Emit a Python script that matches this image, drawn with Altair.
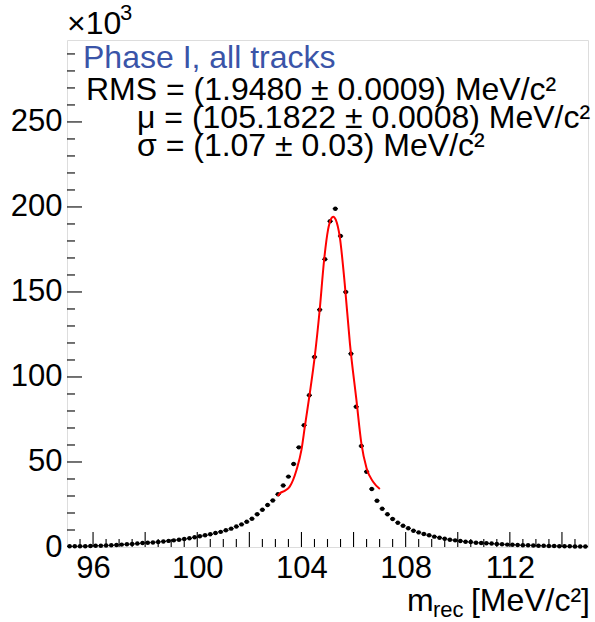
import altair as alt
import pandas as pd

# ---------------- data ----------------
centers = [95.1, 95.3, 95.5, 95.7, 95.9, 96.1, 96.3, 96.5, 96.7, 96.9,
           97.1, 97.3, 97.5, 97.7, 97.9, 98.1, 98.3, 98.5, 98.7, 98.9,
           99.1, 99.3, 99.5, 99.7, 99.9, 100.1, 100.3, 100.5, 100.7, 100.9,
           101.1, 101.3, 101.5, 101.7, 101.9, 102.1, 102.3, 102.5, 102.7, 102.9,
           103.1, 103.3, 103.5, 103.7, 103.9, 104.1, 104.3, 104.5, 104.7, 104.9,
           105.1, 105.3, 105.5, 105.7, 105.9, 106.1, 106.3, 106.5, 106.7, 106.9,
           107.1, 107.3, 107.5, 107.7, 107.9, 108.1, 108.3, 108.5, 108.7, 108.9,
           109.1, 109.3, 109.5, 109.7, 109.9, 110.1, 110.3, 110.5, 110.7, 110.9,
           111.1, 111.3, 111.5, 111.7, 111.9, 112.1, 112.3, 112.5, 112.7, 112.9,
           113.1, 113.3, 113.5, 113.7, 113.9, 114.1, 114.3, 114.5, 114.7, 114.9]
counts_k = [0.4, 0.4, 0.4, 0.5, 0.6, 0.7, 0.8, 0.9, 1.0, 1.2,
            1.4, 1.6, 1.8, 2.0, 2.3, 2.5, 2.7, 3.0, 3.3, 3.6,
            3.9, 4.3, 4.7, 5.1, 5.7, 6.3, 6.9, 7.5, 8.2, 8.9,
            9.8, 10.8, 12.0, 13.3, 14.8, 16.6, 19.3, 21.9, 24.7, 27.4,
            31.0, 36.2, 41.4, 48.8, 58.6, 71.6, 89.2, 111.8, 139.6, 169.2,
            191.6, 199.0, 182.9, 150.0, 113.7, 82.5, 59.4, 44.3, 34.1, 27.2,
            22.5, 19.2, 16.5, 14.3, 12.5, 11.0, 9.6, 8.6, 7.6, 6.9,
            6.1, 5.5, 4.9, 4.3, 3.9, 3.5, 3.1, 2.9, 2.5, 2.4,
            2.2, 2.0, 1.8, 1.6, 1.4, 1.3, 1.2, 1.0, 1.0, 0.9,
            0.8, 0.7, 0.6, 0.6, 0.5, 0.4, 0.4, 0.3, 0.3, 0.3]

fit_x = [103.09, 103.17, 103.35, 103.55, 103.81, 104.00, 104.13, 104.32, 104.51,
         104.70, 104.87, 105.02, 105.15, 105.22, 105.32, 105.47, 105.66, 105.86,
         106.11, 106.30, 106.50, 106.75, 107.01]
fit_y = [30.0, 31.5, 33.0, 35.5, 45.3, 57.1, 70.8, 90.4, 112.0,
         139.4, 168.8, 186.5, 193.3, 194.3, 192.4, 182.5, 155.1, 119.8,
         86.5, 61.0, 46.3, 38.4, 34.1]

x_major_ticks = [96, 98, 100, 102, 104, 106, 108, 110, 112, 114]
x_minor_ticks = [95.5, 96.5, 97, 97.5, 98.5, 99, 99.5, 100.5, 101, 101.5,
                 102.5, 103, 103.5, 104.5, 105, 105.5, 106.5, 107, 107.5,
                 108.5, 109, 109.5, 110.5, 111, 111.5, 112.5, 113, 113.5, 114.5]
y_major_ticks = [50, 100, 150, 200, 250]
y_minor_ticks = [10, 20, 30, 40, 60, 70, 80, 90, 110, 120, 130, 140, 160, 170,
                 180, 190, 210, 220, 230, 240, 260, 270, 280, 290]
x_tick_labels = [96, 100, 104, 108, 112]
y_tick_labels = [0, 50, 100, 150, 200, 250]

title_text = "Phase I, all tracks"
stat_lines = ["RMS = (1.9480 ± 0.0009) MeV/c²",
              "μ = (105.1822 ± 0.0008) MeV/c²",
              "σ = (1.07 ± 0.03) MeV/c²"]

# ---------------- build ----------------
FONT = "Liberation Sans"
FS_TICK = 31
FS = 32
W, H = 521, 507

hist = pd.DataFrame({"x": centers, "y": counts_k})
hist["lo"] = hist["x"] - 0.1
hist["hi"] = hist["x"] + 0.1
fit = pd.DataFrame({"x": fit_x, "y": fit_y})

xs = alt.Scale(domain=[95, 115], nice=False, zero=False)
ys = alt.Scale(domain=[0, 298.2], nice=False, zero=False)

xaxis = alt.Axis(values=x_tick_labels, ticks=False, domain=False, grid=False,
                 labelFont=FONT, labelFontSize=FS_TICK, labelColor="black",
                 labelPadding=6, labelFlush=False, labelOverlap=False, title=None)
yaxis = alt.Axis(values=y_tick_labels, ticks=False, domain=False, grid=False,
                 labelFont=FONT, labelFontSize=FS_TICK, labelColor="black",
                 labelPadding=5, labelFlush=False, labelOverlap=False, title=None)

errs = alt.Chart(hist).mark_rule(color="black", strokeWidth=1.3).encode(
    x=alt.X("lo:Q", scale=xs, axis=xaxis),
    x2="hi:Q",
    y=alt.Y("y:Q", scale=ys, axis=yaxis),
)
pts = alt.Chart(hist).mark_point(filled=True, color="black", size=20, opacity=1,
                                 shape="circle").encode(
    x=alt.X("x:Q", scale=xs),
    y=alt.Y("y:Q", scale=ys),
)
fitline = alt.Chart(fit).mark_line(color="#ff0000", strokeWidth=2,
                                   interpolate="monotone").encode(
    x=alt.X("x:Q", scale=xs),
    y=alt.Y("y:Q", scale=ys),
)

xmaj = alt.Chart(pd.DataFrame({"v": x_major_ticks})).mark_rule(color="black", strokeWidth=1.1).encode(
    x=alt.X("v:Q", scale=xs), y=alt.value(H), y2=alt.value(H - 15))
xmin = alt.Chart(pd.DataFrame({"v": x_minor_ticks})).mark_rule(color="black", strokeWidth=1.1).encode(
    x=alt.X("v:Q", scale=xs), y=alt.value(H), y2=alt.value(H - 8))
ymaj = alt.Chart(pd.DataFrame({"v": y_major_ticks})).mark_rule(color="black", strokeWidth=1.1).encode(
    y=alt.Y("v:Q", scale=ys), x=alt.value(0), x2=alt.value(15))
ymin = alt.Chart(pd.DataFrame({"v": y_minor_ticks})).mark_rule(color="black", strokeWidth=1.1).encode(
    y=alt.Y("v:Q", scale=ys), x=alt.value(0), x2=alt.value(8))


def txt(s, x, y, size=FS, color="black", align="left"):
    return alt.Chart(pd.DataFrame({"t": [s]})).mark_text(
        font=FONT, fontSize=size, color=color, align=align, baseline="alphabetic"
    ).encode(text="t:N", x=alt.value(x), y=alt.value(y))

# plot origin is at (67, 40) in page pixels
texts = [
    txt(title_text, 16, 28, color="#3a54a8"),
    txt(stat_lines[0], 19, 60),
    txt(stat_lines[1], 70, 88),
    txt(stat_lines[2], 70, 116),
    txt("×10", 0, -6),
    txt("3", 53, -20, size=22),
    txt("m", 340, 571),
    txt("rec", 366, 577, size=22),
    txt("[MeV/c²]", 523, 571, align="right"),
]

chart = alt.layer(errs, pts, fitline, xmaj, xmin, ymaj, ymin, *texts).properties(
    width=W, height=H,
    autosize=alt.AutoSizeParams(type="none"),
    padding={"left": 67, "top": 40, "right": 7, "bottom": 75},
).configure_view(stroke="black", strokeWidth=1.2).configure(background="white")

chart.save("out.html", embed_options={"renderer": "svg", "actions": False})
